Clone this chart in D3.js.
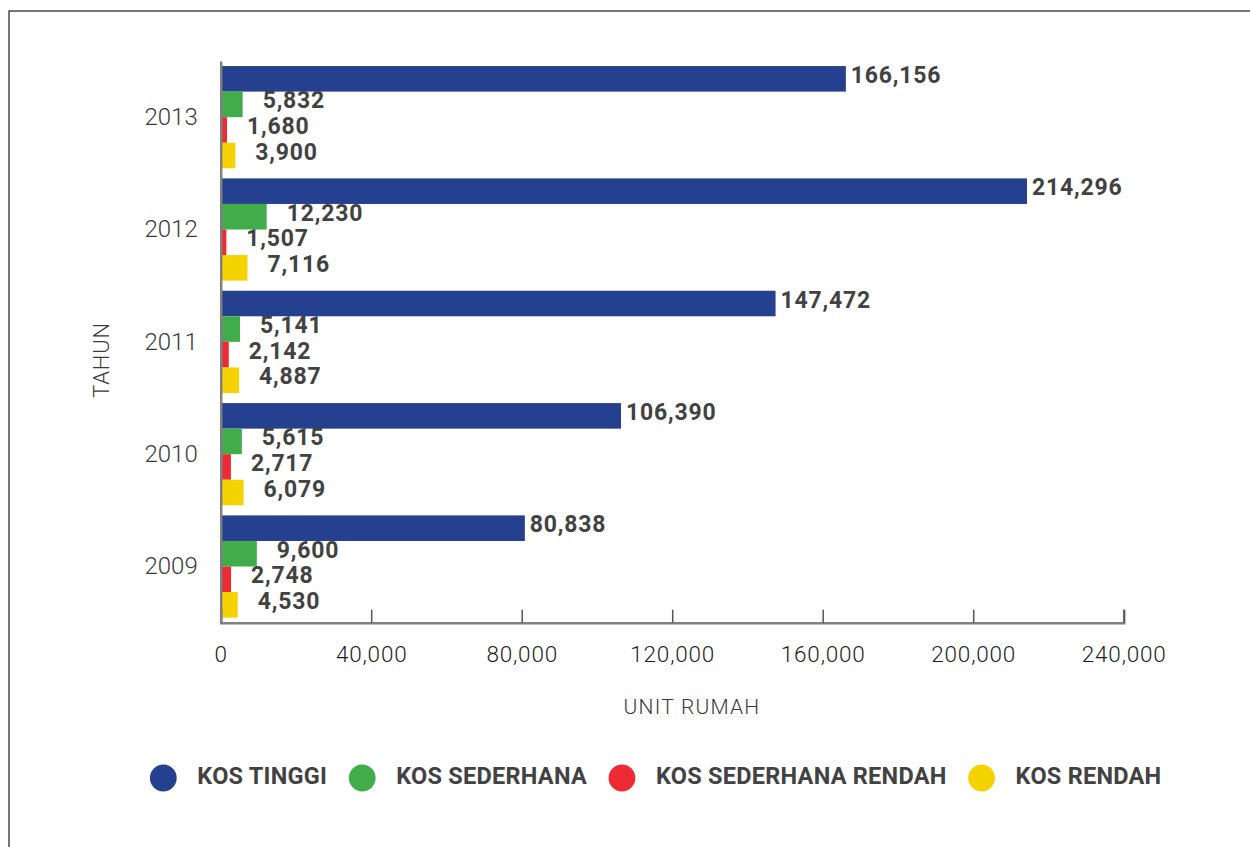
<!DOCTYPE html>
<html>
<head>
<meta charset="utf-8">
<script src="https://cdn.jsdelivr.net/npm/d3@7"></script>
<style>
  body { margin: 0; background: #fff; }
  svg { display: block; }
</style>
</head>
<body>
<div id="chart"></div>
<script>
const years = ["2013", "2012", "2011", "2010", "2009"];
const seriesNames = ["KOS TINGGI", "KOS SEDERHANA", "KOS SEDERHANA RENDAH", "KOS RENDAH"];
const kosTinggi = [166156, 214296, 147472, 106390, 80838];
const kosSederhana = [5832, 12230, 5141, 5615, 9600];
const kosSederhanaRendah = [1680, 1507, 2142, 2717, 2748];
const kosRendah = [3900, 7116, 4887, 6079, 4530];
const xTicks = [0, 40000, 80000, 120000, 160000, 200000, 240000];

const colors = ["#25408f", "#40ad4a", "#ee2b35", "#f4d300"];
const seriesValues = [kosTinggi, kosSederhana, kosSederhanaRendah, kosRendah];

const width = 1250, height = 847;
const margin = { left: 220.7, right: 126.3, top: 61, bottom: 224.3 };

const svg = d3.select("#chart").append("svg")
    .attr("width", width)
    .attr("height", height);

// outer frame, runs off the right and bottom edges
svg.append("rect")
    .attr("x", 9).attr("y", 11)
    .attr("width", 1400).attr("height", 1000)
    .attr("fill", "none")
    .attr("stroke", "#4a4a4a")
    .attr("stroke-width", 1.5);

const x = d3.scaleLinear()
    .domain([0, 240000])
    .range([margin.left, width - margin.right]);

const y0 = d3.scaleBand()
    .domain(years)
    .range([margin.top, height - margin.bottom])
    .paddingInner(0.09)
    .paddingOuter(0.045);

const y1 = d3.scaleBand()
    .domain(d3.range(seriesNames.length))
    .range([0, y0.bandwidth()]);

const rows = years.map((yr, i) => ({
    year: yr,
    values: seriesValues.map((s, k) => ({ k: k, value: s[i] }))
}));

const groups = svg.append("g").selectAll("g")
    .data(rows)
    .join("g")
    .attr("transform", d => `translate(0,${y0(d.year)})`);

groups.selectAll("rect")
    .data(d => d.values)
    .join("rect")
    .attr("x", x(0))
    .attr("y", d => y1(d.k))
    .attr("width", d => x(d.value) - x(0))
    .attr("height", y1.bandwidth())
    .attr("fill", d => colors[d.k]);

// value labels
groups.selectAll("text")
    .data(d => d.values)
    .join("text")
    .attr("x", d => x(d.value) + (d.k === 0 ? 5 : 20))
    .attr("y", d => y1(d.k) + y1.bandwidth() / 2 - 2)
    .attr("dominant-baseline", "middle")
    .attr("font-family", "Roboto, sans-serif")
    .attr("font-weight", 700)
    .attr("font-size", 23)
    .attr("letter-spacing", 0.8)
    .attr("fill", "#424242")
    .text(d => d3.format(",")(d.value));

// x axis
const xAxis = svg.append("g")
    .attr("transform", `translate(0,${height - margin.bottom})`)
    .call(d3.axisBottom(x).tickValues(xTicks).tickSize(-13).tickPadding(0).tickFormat(d3.format(",")));
xAxis.select(".domain").attr("stroke", "#808080").attr("stroke-width", 2.5);
xAxis.selectAll(".tick line").attr("stroke", "#555").attr("stroke-width", 1.5);
xAxis.selectAll(".tick text")
    .attr("y", 31)
    .attr("dy", "0.35em")
    .attr("font-family", "Roboto, sans-serif")
    .attr("font-weight", 300)
    .attr("font-size", 22.5)
    .attr("letter-spacing", 0.8)
    .attr("fill", "#1e1e1e");

// y axis
const yAxis = svg.append("g")
    .attr("transform", `translate(${margin.left},0)`)
    .call(d3.axisLeft(y0).tickSize(0).tickPadding(23));
yAxis.select(".domain").attr("stroke", "#808080").attr("stroke-width", 2.5);
yAxis.selectAll(".tick text")
    .attr("font-family", "Roboto, sans-serif")
    .attr("font-weight", 300)
    .attr("font-size", 24)
    .attr("fill", "#3a3a3a");

// axis titles
svg.append("text")
    .attr("x", 692).attr("y", 708)
    .attr("text-anchor", "middle")
    .attr("dominant-baseline", "middle")
    .attr("font-family", "Roboto, sans-serif")
    .attr("font-weight", 300)
    .attr("font-size", 21)
    .attr("letter-spacing", 1.2)
    .attr("fill", "#3a3a3a")
    .text("UNIT RUMAH");

svg.append("text")
    .attr("transform", "translate(103,360) rotate(-90)")
    .attr("text-anchor", "middle")
    .attr("dominant-baseline", "middle")
    .attr("font-family", "Roboto, sans-serif")
    .attr("font-weight", 300)
    .attr("font-size", 22)
    .attr("letter-spacing", 0.8)
    .attr("fill", "#3a3a3a")
    .text("TAHUN");

// legend
const legend = svg.append("g").attr("transform", "translate(0,778)");
let lx = 163.3;
seriesNames.forEach((name, k) => {
    legend.append("circle")
        .attr("cx", lx).attr("cy", 0)
        .attr("r", 13.4)
        .attr("fill", colors[k]);
    const t = legend.append("text")
        .attr("x", lx + 34).attr("y", 0)
        .attr("dominant-baseline", "middle")
        .attr("font-family", "Roboto, sans-serif")
        .attr("font-weight", 700)
        .attr("font-size", 23.5)
        .attr("letter-spacing", 0.25)
        .attr("fill", "#424242")
        .text(name);
    lx = lx + 34 + t.node().getComputedTextLength() + 35;
});
</script>
</body>
</html>
